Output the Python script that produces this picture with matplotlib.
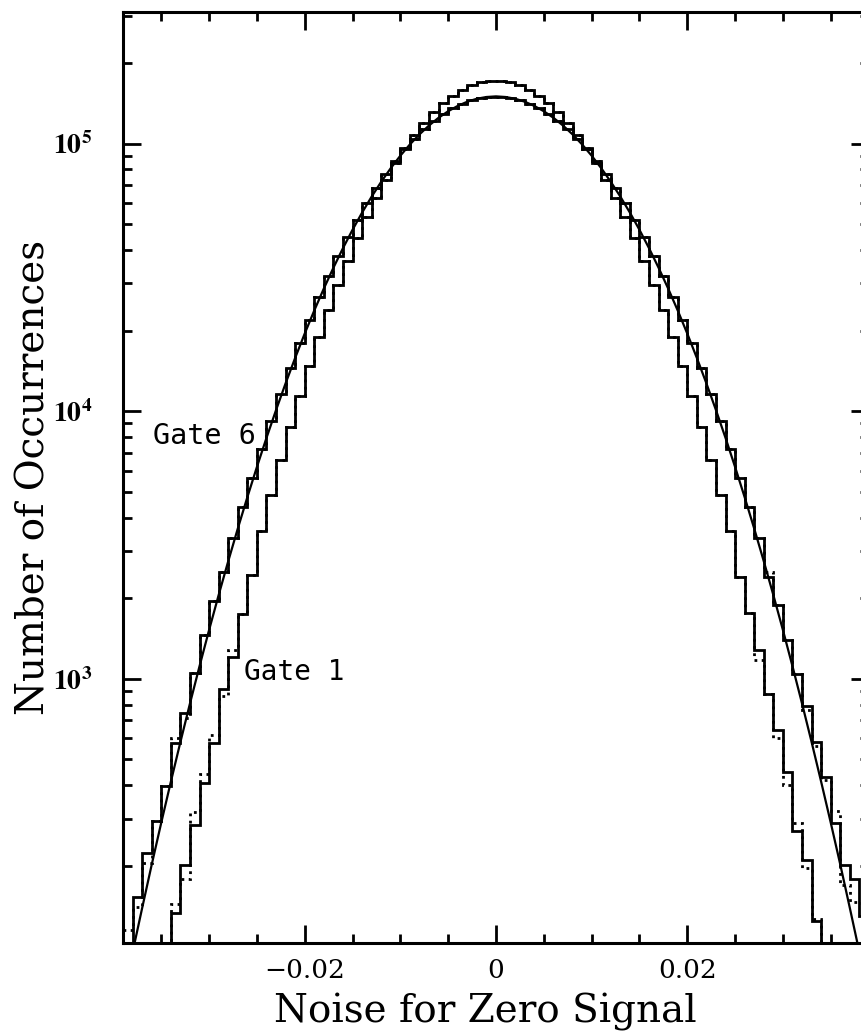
import numpy as np
import matplotlib.pyplot as plt
from matplotlib.ticker import FixedLocator, MultipleLocator, FixedFormatter

plt.rcParams['font.family'] = ['DejaVu Serif']
plt.rcParams['mathtext.fontset'] = 'stix'

# histogram bins: 0.001 wide, from -0.039 to 0.039
edges = np.linspace(-0.039, 0.039, 79)

# Gate 6 (wide), solid steps
gate6 = [98, 153, 224, 295, 396, 577, 747, 1052, 1460, 1958,
         2497, 3350, 4380, 5622, 7237, 9222, 11630, 14530, 17960, 21980,
         26630, 31940, 37930, 44580, 51870, 59750, 68140, 76920, 85960, 95090,
         104100, 112900, 121200, 128700, 135400, 141000, 145300, 148300, 149800,
         149800, 148300, 145300, 141000, 135400, 128700, 121200, 112900, 104100,
         95090, 85960, 76920, 68140, 59750, 51870, 44580, 37930, 31940, 26630,
         21980, 17960, 14530, 11630, 9222, 7237, 5622, 4380, 3350, 2411,
         1892, 1399, 1044, 793, 581, 428, 290, 202, 179, 130]
# Gate 6, second run (dotted)
gate6_b = [115, 140, 205, 295, 396, 602, 714, 1052, 1460, 1958,
           2497, 3350, 4380, 5622, 7237, 9222, 11630, 14530, 17960, 21980,
           26630, 31940, 37930, 44580, 51870, 59750, 68140, 76920, 85960, 95090,
           104100, 112900, 121200, 128700, 135400, 141000, 145300, 148300, 149800,
           149800, 148300, 145300, 141000, 135400, 128700, 121200, 112900, 104100,
           95090, 85960, 76920, 68140, 59750, 51870, 44580, 37930, 31940, 26630,
           21980, 17960, 14530, 11630, 9222, 7237, 5622, 4380, 3350, 2500,
           1892, 1399, 1044, 766, 559, 418, 321, 170, 146, 145]

# Gate 1 (narrow), solid steps
gate1 = [20, 32, 50, 65, 85, 133, 201, 285, 409, 578,
         916, 1206, 1750, 2448, 3568, 4864, 6546, 8697, 11410, 14770,
         18870, 23810, 29660, 36460, 44260, 53030, 62720, 73230, 84410, 96040,
         107900, 119600, 130900, 141500, 150900, 158900, 165200, 169500, 171700,
         171700, 169500, 165200, 158900, 150900, 141500, 130900, 119600, 107900,
         96040, 84410, 73230, 62720, 53030, 44260, 36460, 29660, 23810, 18870,
         14770, 11410, 8697, 6546, 4864, 3568, 2400, 1762, 1284, 877,
         644, 450, 271, 211, 124, 82, 60, 45, 30, 20]
# Gate 1, second run (dotted)
gate1_b = [20, 32, 50, 65, 85, 144, 178, 318, 440, 617,
           866, 1283, 1750, 2448, 3568, 4864, 6546, 8697, 11410, 14770,
           18870, 23810, 29660, 36460, 44260, 53030, 62720, 73230, 84410, 96040,
           107900, 119600, 130900, 141500, 150900, 158900, 165200, 169500, 171700,
           171700, 169500, 165200, 158900, 150900, 141500, 130900, 119600, 107900,
           96040, 84410, 73230, 62720, 53030, 44260, 36460, 29660, 23810, 18870,
           14770, 11410, 8697, 6546, 4864, 3568, 2400, 1762, 1180, 877,
           603, 402, 290, 196, 127, 82, 60, 45, 30, 20]

# gaussian fit for gate 6, sampled every 0.001
fit_x = np.linspace(-0.039, 0.039, 79)
fit_y = [64, 95, 139, 202, 290, 412, 580, 808, 1114, 1521,
         2055, 2748, 3639, 4768, 6185, 7942, 10090, 12700, 15810, 19490,
         23780, 28720, 34340, 40640, 47600, 55190, 63340, 71950, 80910, 90060,
         99230, 108200, 116800, 124800, 132000, 138200, 143300, 147000, 149200,
         150000,
         149200, 147000, 143300, 138200, 132000, 124800, 116800, 108200, 99230,
         90060, 80910, 71950, 63340, 55190, 47600, 40640, 34340, 28720, 23780,
         19490, 15810, 12700, 10090, 7942, 6185, 4768, 3639, 2748, 2055,
         1521, 1114, 808, 580, 412, 290, 202, 139, 95, 64]

fig = plt.figure(figsize=(8.61, 10.34), dpi=100)
ax = fig.add_axes([123 / 861, 91 / 1034, 746 / 861, 931 / 1034])

ax.stairs(gate6_b, edges, baseline=None, color='black', lw=2.0, linestyle=(0, (1, 1.6)))
ax.stairs(gate1_b, edges, baseline=None, color='black', lw=2.0, linestyle=(0, (1, 1.6)))
ax.stairs(gate6, edges, baseline=None, color='black', lw=2.0)
ax.stairs(gate1, edges, baseline=None, color='black', lw=2.0)
ax.plot(fit_x, fit_y, color='black', lw=1.6)

ax.set_yscale('log')
ax.set_xlim(-0.039, 0.039)
ax.set_ylim(103, 3.1e5)

# ticks inside on all four sides
ax.xaxis.set_major_locator(FixedLocator([-0.02, 0, 0.02]))
ax.xaxis.set_major_formatter(FixedFormatter(['\u22120.02', '0', '0.02']))
ax.xaxis.set_minor_locator(MultipleLocator(0.005))
ax.yaxis.set_major_locator(FixedLocator([1e3, 1e4, 1e5]))
ax.yaxis.set_major_formatter(FixedFormatter([r'$\mathbf{10^{3}}$', r'$\mathbf{10^{4}}$',
                                             r'$\mathbf{10^{5}}$']))
ax.tick_params(which='both', direction='in', top=True, right=True, width=2)
ax.tick_params(which='major', length=13)
ax.tick_params(which='minor', length=6.5)
ax.tick_params(axis='x', labelsize=19, pad=11)
ax.tick_params(axis='y', labelsize=20, pad=22)
for s in ax.spines.values():
    s.set_linewidth(2.2)

ax.set_xlabel('Noise for Zero Signal', fontsize=28)
ax.xaxis.label.set_verticalalignment('baseline')
ax.xaxis.set_label_coords(0.4853, -0.0849)
ax.set_ylabel('Number of Occurrences', fontsize=28)
ax.yaxis.label.set_verticalalignment('baseline')
ax.yaxis.set_label_coords(-0.1046, 0.5)

ax.text(-0.0359, 8090, 'Gate 6', family='DejaVu Sans Mono', fontsize=20.5, va='center')
ax.text(-0.0263, 1062, 'Gate 1', family='DejaVu Sans Mono', fontsize=20, va='center')

plt.savefig('out.png', dpi=100)
